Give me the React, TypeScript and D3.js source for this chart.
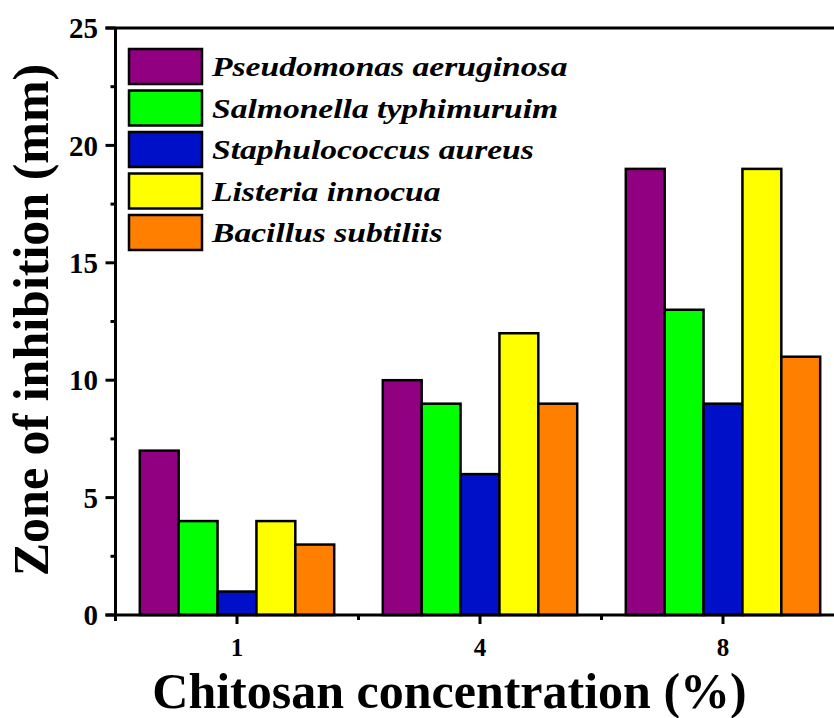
import React from "react";
import * as d3 from "d3";

const categories = ["1", "4", "8"];
const seriesNames = [
  "Pseudomonas aeruginosa",
  "Salmonella typhimuruim",
  "Staphulococcus aureus",
  "Listeria innocua",
  "Bacillus subtiliis",
];
const seriesColors = ["#910080", "#00ff00", "#0010c8", "#ffff00", "#ff8000"];
const pseudomonas = [7, 10, 19];
const salmonella = [4, 9, 13];
const staphulococcus = [1, 6, 9];
const listeria = [4, 12, 19];
const bacillus = [3, 9, 11];
const seriesValues = [pseudomonas, salmonella, staphulococcus, listeria, bacillus];
const yTicks = [0, 5, 10, 15, 20, 25];
const yMinorTicks = [2.5, 7.5, 12.5, 17.5, 22.5];

const W = 834;
const H = 718;
const left = 115.5;
const right = 844.5;
const top = 28;
const bottom = 615;
const FONT = "'Liberation Serif', 'Times New Roman', serif";

export default function App() {
  const y = d3.scaleLinear().domain([0, 25]).range([bottom, top]);
  const x0 = d3.scaleBand<string>().domain(categories).range([left, right]).paddingInner(0).paddingOuter(0);
  const bw = x0.bandwidth();
  const x1 = d3
    .scaleBand<number>()
    .domain(d3.range(seriesNames.length))
    .range([bw * 0.1, bw * 0.9])
    .padding(0);
  const minorX = categories.slice(0, -1).map((c, i) => ((x0(c) as number) + bw / 2 + (x0(categories[i + 1]) as number) + bw / 2) / 2);
  minorX.unshift(left);

  return (
    <svg width={W} height={H} style={{ position: "absolute", left: 0, top: 0, background: "#fff" }} fontFamily={FONT}>
      {/* bars */}
      {categories.map((c, ci) => (
        <g key={c} transform={`translate(${x0(c)},0)`}>
          {seriesValues.map((vals, si) => (
            <rect
              key={si}
              x={x1(si)}
              y={y(vals[ci])}
              width={x1.bandwidth()}
              height={y(0) - y(vals[ci])}
              fill={seriesColors[si]}
              stroke="#000"
              strokeWidth={2.5}
            />
          ))}
        </g>
      ))}
      {/* axes */}
      <line x1={left} x2={left} y1={top} y2={bottom + 6} stroke="#000" strokeWidth={3} />
      <line x1={left - 10} x2={W} y1={bottom} y2={bottom} stroke="#000" strokeWidth={3} />
      <line x1={left - 10} x2={W} y1={top} y2={top} stroke="#000" strokeWidth={3} />
      {yTicks.map((t) => (
        <g key={t}>
          <line x1={left - 10} x2={left} y1={y(t)} y2={y(t)} stroke="#000" strokeWidth={3} />
          <text x={98} y={y(t)} dy="0.35em" textAnchor="end" fontSize={29} fontWeight="bold">
            {t}
          </text>
        </g>
      ))}
      {yMinorTicks.map((t) => (
        <line key={t} x1={left - 5} x2={left} y1={y(t)} y2={y(t)} stroke="#000" strokeWidth={3} />
      ))}
      {categories.map((c) => {
        const cx = (x0(c) as number) + bw / 2;
        return (
          <g key={c}>
            <line x1={cx} x2={cx} y1={bottom} y2={bottom + 9} stroke="#000" strokeWidth={3} />
            <text x={cx} y={656} textAnchor="middle" fontSize={25} fontWeight="bold">
              {c}
            </text>
          </g>
        );
      })}
      {minorX.map((mx, i) => (
        <line key={i} x1={mx} x2={mx} y1={bottom} y2={bottom + 5} stroke="#000" strokeWidth={3} />
      ))}
      {/* titles */}
      <text x={449.5} y={708} textAnchor="middle" fontSize={50} fontWeight="bold">
        Chitosan concentration (%)
      </text>
      <text transform="translate(48,320) rotate(-90)" textAnchor="middle" fontSize={50} fontWeight="bold">
        Zone of inhibition (mm)
      </text>
      {/* legend */}
      {seriesNames.map((name, i) => {
        const ly = 49 + i * 41.5;
        return (
          <g key={name}>
            <rect x={129} y={ly} width={73} height={35} fill={seriesColors[i]} stroke="#000" strokeWidth={2.5} />
            <text
              transform={`translate(212,${ly + 27}) scale(1.2,1)`}
              fontSize={28}
              fontWeight="bold"
              fontStyle="italic"
            >
              {name}
            </text>
          </g>
        );
      })}
    </svg>
  );
}
